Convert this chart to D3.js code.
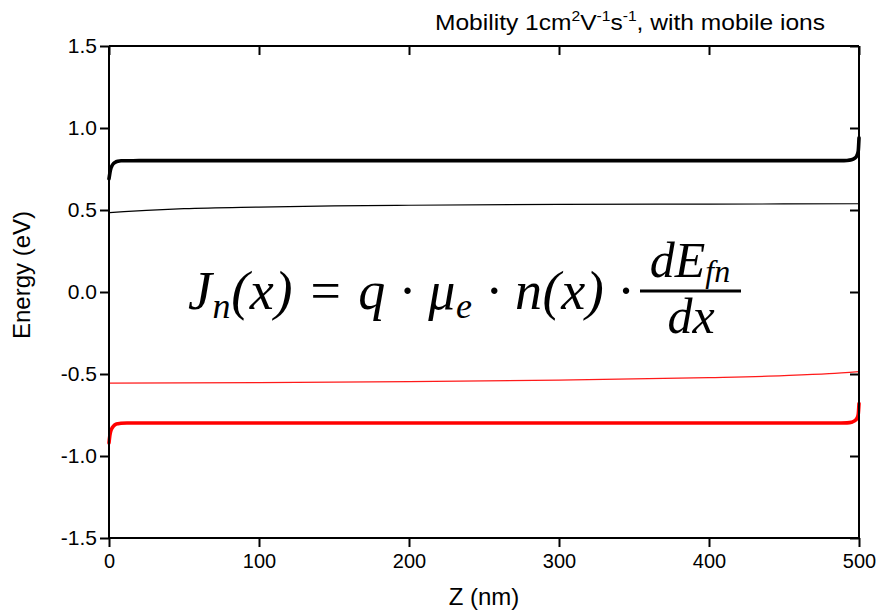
<!DOCTYPE html>
<html><head><meta charset="utf-8">
<script src="https://cdn.jsdelivr.net/npm/d3@7"></script>
<style>body{margin:0;background:#fff}svg{display:block}</style>
</head><body>
<svg id="c" width="877" height="613"></svg>
<script>
// Data
const xTicks = [0, 100, 200, 300, 400, 500];
const yTicks = [-1.5, -1.0, -0.5, 0.0, 0.5, 1.0, 1.5];

const thickBlackX = [0, 0.5, 1, 2, 3, 4, 6, 8, 12, 20, 50, 100, 200, 300, 400, 480, 488, 492, 495, 497, 498.5, 499.5, 500];
const thickBlackY = [0.69, 0.72, 0.745, 0.77, 0.783, 0.79, 0.797, 0.80, 0.80, 0.801, 0.801, 0.801, 0.801, 0.801, 0.801, 0.801, 0.801, 0.802, 0.806, 0.815, 0.83, 0.86, 0.94];

const thinBlackX = [0, 10, 25, 50, 100, 150, 200, 300, 400, 500];
const thinBlackY = [0.484, 0.49, 0.498, 0.508, 0.518, 0.525, 0.529, 0.534, 0.536, 0.538];

const thinRedX = [0, 100, 200, 300, 400, 450, 480, 500];
const thinRedY = [-0.556, -0.553, -0.547, -0.537, -0.522, -0.510, -0.498, -0.485];

const thickRedX = [0, 0.5, 1, 2, 3, 4, 6, 8, 12, 20, 50, 100, 200, 300, 400, 480, 488, 492, 495, 497, 498.5, 499.5, 500];
const thickRedY = [-0.92, -0.88, -0.855, -0.83, -0.818, -0.81, -0.803, -0.80, -0.799, -0.799, -0.799, -0.799, -0.799, -0.799, -0.799, -0.799, -0.799, -0.798, -0.794, -0.786, -0.772, -0.745, -0.68];

const svg = d3.select("#c");
const L = 109, R = 859, T = 46, B = 538;
const x = d3.scaleLinear().domain([0, 500]).range([L, R]);
const y = d3.scaleLinear().domain([-1.5, 1.5]).range([B, T]);

const font = "Liberation Sans, Arial, sans-serif";

// curves
const line = d3.line().x(d => x(d[0])).y(d => y(d[1])).curve(d3.curveMonotoneX);
function draw(xs, ys, color, w) {
  svg.append("path").datum(xs.map((v, i) => [v, ys[i]]))
    .attr("d", line).attr("fill", "none").attr("stroke", color)
    .attr("stroke-width", w).attr("stroke-linejoin", "round").attr("stroke-linecap", "round");
}
draw(thinBlackX, thinBlackY, "#000", 1.2);
draw(thinRedX, thinRedY, "#ff1a1a", 1.2);
draw(thickBlackX, thickBlackY, "#000", 3.6);
draw(thickRedX, thickRedY, "#ff0000", 3.6);

// axes
const ax = svg.append("g").attr("font-family", font);
const gBottom = ax.append("g").attr("transform", `translate(0,${B})`)
  .call(d3.axisBottom(x).tickValues(xTicks).tickSize(9).tickPadding(7).tickFormat(d3.format("d")));
const gTop = ax.append("g").attr("transform", `translate(0,${T})`)
  .call(d3.axisTop(x).tickValues(xTicks).tickSize(-9).tickFormat(""));
const gLeft = ax.append("g").attr("transform", `translate(${L},0)`)
  .call(d3.axisLeft(y).tickValues(yTicks).tickSize(9).tickPadding(3).tickFormat(d3.format(".1f")));
const gRight = ax.append("g").attr("transform", `translate(${R},0)`)
  .call(d3.axisRight(y).tickValues(yTicks).tickSize(-9).tickFormat(""));
[gBottom, gTop, gLeft, gRight].forEach(g => {
  g.select(".domain").attr("stroke", "#000").attr("stroke-width", 2);
  g.selectAll(".tick line").attr("stroke", "#000").attr("stroke-width", 2);
  g.selectAll(".tick text").attr("font-size", 20).attr("fill", "#000").attr("font-family", font);
});
gLeft.selectAll(".tick text").attr("font-size", 21).text(d => d3.format(".1f")(d).replace("\u2212", "-"));
gBottom.select(".domain").attr("d", `M${L},0H${R}`);
gTop.select(".domain").attr("d", `M${L},0H${R}`);
gLeft.select(".domain").attr("d", `M0,${T}V${B}`);
gRight.select(".domain").attr("d", `M0,${T}V${B}`);

// axis labels
svg.append("text").attr("x", 484).attr("y", 605).attr("text-anchor", "middle")
  .attr("font-family", font).attr("font-size", 24).text("Z (nm)");
svg.append("text").attr("transform", "translate(30,275) rotate(-90)").attr("text-anchor", "middle")
  .attr("font-family", font).attr("font-size", 24).text("Energy (eV)");

// title
const tt = svg.append("text").attr("x", 435).attr("y", 30).attr("font-family", font).attr("font-size", 22)
  .attr("textLength", 390).attr("lengthAdjust", "spacingAndGlyphs");
tt.append("tspan").text("Mobility 1cm");
tt.append("tspan").attr("font-size", 14).attr("dy", -9).text("2");
tt.append("tspan").attr("dy", 9).text("V");
tt.append("tspan").attr("font-size", 14).attr("dy", -9).text("-1");
tt.append("tspan").attr("dy", 9).text("s");
tt.append("tspan").attr("font-size", 14).attr("dy", -9).text("-1");
tt.append("tspan").attr("dy", 9).text(", with mobile ions");

// formula
const mf = "Liberation Serif, DejaVu Serif, serif";
const eq = svg.append("text").attr("x", 188).attr("y", 309).attr("font-family", mf)
  .attr("font-size", 54).attr("font-style", "italic")
  .attr("textLength", 444).attr("lengthAdjust", "spacing");
eq.append("tspan").text("J");
eq.append("tspan").attr("font-size", 36).attr("dy", 9).text("n");
eq.append("tspan").attr("dy", -9).text("(x) = q · μ");
eq.append("tspan").attr("font-size", 36).attr("dy", 9).text("e");
eq.append("tspan").attr("dy", -9).text(" · n(x) ·");

const num = svg.append("text").attr("x", 690).attr("y", 277).attr("text-anchor", "middle")
  .attr("font-family", mf).attr("font-size", 50).attr("font-style", "italic");
num.append("tspan").text("dE");
num.append("tspan").attr("font-size", 32).attr("dy", 5).text("fn");
svg.append("line").attr("x1", 640).attr("x2", 741).attr("y1", 291).attr("y2", 291)
  .attr("stroke", "#000").attr("stroke-width", 3);
svg.append("text").attr("x", 691).attr("y", 333).attr("text-anchor", "middle")
  .attr("font-family", mf).attr("font-size", 50).attr("font-style", "italic").text("dx");
</script>
</body></html>
